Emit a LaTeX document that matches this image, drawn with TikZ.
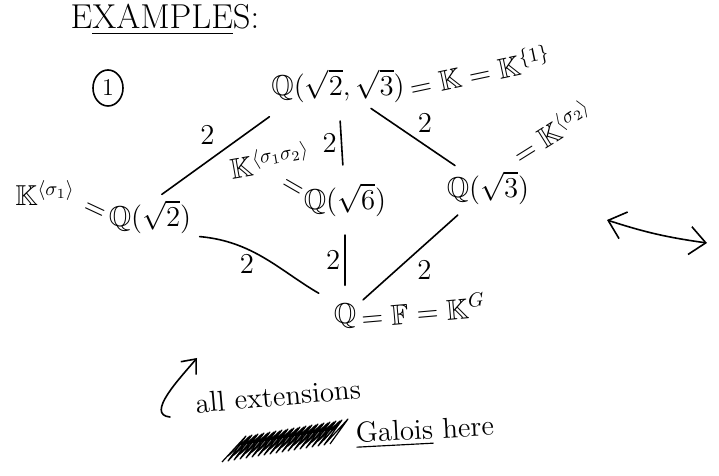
\documentclass[tikz,border=0pt]{standalone}
\usepackage{amsmath,amssymb}
\usepackage{tikz}
\usetikzlibrary{arrows.meta,positioning,shapes.geometric}

\begin{document}
\begin{tikzpicture}[x=0.5pt, y=0.5pt,
  field/.style={inner sep=1pt, font=\Large},
  side/.style={inner sep=1pt, font=\Large},
  deg/.style={inner sep=2pt, font=\Large},
  ext/.style={thick, line cap=round, shorten <=3pt, shorten >=3pt},
  note/.style={font=\Large},
  arr/.style={-{Straight Barb[length=6pt,width=10pt]}, thick, line cap=round},
  dbl/.style={{Straight Barb[length=8pt,width=14pt]}-{Straight Barb[length=8pt,width=14pt]}, thick, line cap=round},
  scrib/.style={line width=0.6pt, line join=round}
]
  \useasboundingbox (0,0) rectangle (719,476);

  \node[font=\LARGE] (title) at (165,456) {E\underline{XAMPLE}S:};
  \node[draw, ellipse, thick, minimum width=15pt, minimum height=18pt, inner sep=0pt, font=\large] (num) at (108,388) {1};

  \node[field] (top) at (338,390) {$\mathbb{Q}(\sqrt{2},\sqrt{3})$};
  \node[field] (q2) at (150,259) {$\mathbb{Q}(\sqrt{2})$};
  \node[field] (q6) at (345,276) {$\mathbb{Q}(\sqrt{6})$};
  \node[field] (q3) at (488,288) {$\mathbb{Q}(\sqrt{3})$};
  \node[field] (bot) at (345,160) {$\mathbb{Q}$};

  \node[side, anchor=west, rotate=12] (topeq) at (top.east) {$=\mathbb{K}=\mathbb{K}^{\{1\}}$};
  \node[side, anchor=south west, rotate=32] (k2) at ([xshift=-6pt]q3.north east) {$=\mathbb{K}^{\langle\sigma_2\rangle}$};
  \node[side, anchor=west, rotate=5] (boteq) at (bot.east) {$=\mathbb{F}=\mathbb{K}^{G}$};
  \node[side, rotate=-25] (eq1) at (94,265) {$=$};
  \node[side] (k1) at (45,283) {$\mathbb{K}^{\langle\sigma_1\rangle}$};
  \node[side, rotate=-30] (eq12) at (292,288) {$=$};
  \node[side, rotate=10] (k12) at (270,316) {$\mathbb{K}^{\langle\sigma_1\sigma_2\rangle}$};

  \draw[ext, shorten <=10pt] (top.200) -- node[deg, above left, inner sep=3pt] {2} (q2.70);
  \draw[ext, shorten <=8pt, shorten >=8pt] (top) -- node[deg, left] {2} (q6);
  \draw[ext] (top) -- node[deg, above right] {2} (q3);
  \draw[ext, shorten >=8pt] (q2.south east) to[out=-5, in=150] node[deg, below, pos=0.35] {2} (bot.130);
  \draw[ext, shorten <=8pt, shorten >=8pt] (q6) -- node[deg, left] {2} (bot);
  \draw[ext, shorten <=6pt] (q3) -- node[deg, below right] {2} (bot);

  \coordinate (lft) at (607,256);
  \coordinate (rgt) at (707,233);
  \draw[dbl] (lft) to[out=-18, in=172] (rgt);

  \node[note, rotate=5] (ext) at (278,80) {all extensions};
  \node[note, rotate=3] (gal) at (425,44) {\underline{Galois} here};
  \coordinate (tail) at (170,59);
  \coordinate (tip) at (197,118);
  \draw[arr] (tail) to[out=175, in=230] (tip);

  \draw[scrib] (222,14) \foreach \i in {1,...,18} { -- ++(24,26) -- ++(-18,-25) };
  \draw[scrib] (228,20) \foreach \i in {1,...,16} { -- ++(22,20) -- ++(-16,-19) };
\end{tikzpicture}
\end{document}
